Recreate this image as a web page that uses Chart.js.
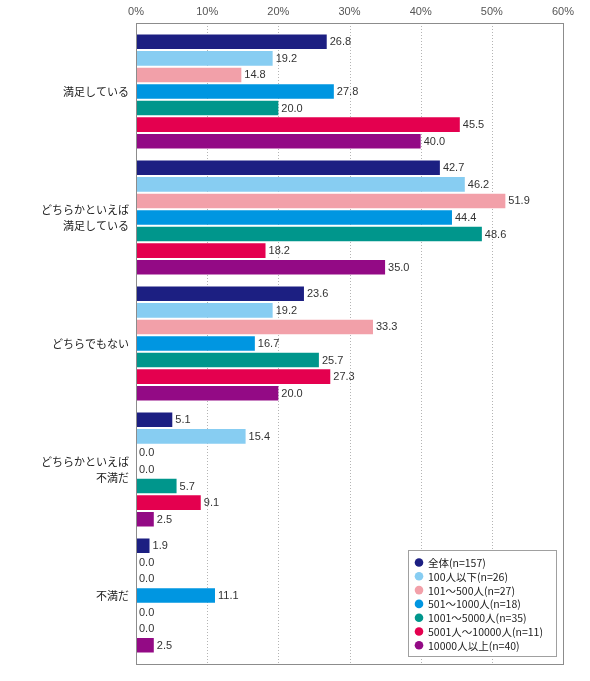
<!DOCTYPE html>
<html lang="ja">
<head>
<meta charset="utf-8">
<title>満足度</title>
<script src="https://cdn.jsdelivr.net/npm/chart.js@4.4.1/dist/chart.umd.min.js"></script>
<style>
  html, body { margin: 0; padding: 0; background: #fff; }
  #wrap { width: 590px; height: 681px; position: relative; }
</style>
</head>
<body>
<div id="wrap"><canvas id="c"></canvas></div>
<script>
// answers, top to bottom
var CATEGORIES = [
  "満足している",
  ["どちらかといえば", "満足している"],
  "どちらでもない",
  ["どちらかといえば", "不満だ"],
  "不満だ"
];

var SERIES_NAMES = [
  "全体(n=157)",
  "100人以下(n=26)",
  "101〜500人(n=27)",
  "501〜1000人(n=18)",
  "1001〜5000人(n=35)",
  "5001人〜10000人(n=11)",
  "10000人以上(n=40)"
];

var ALL      = [26.8, 42.7, 23.6, 5.1, 1.9];
var UPTO100  = [19.2, 46.2, 19.2, 15.4, 0.0];
var UPTO500  = [14.8, 51.9, 33.3, 0.0, 0.0];
var UPTO1000 = [27.8, 44.4, 16.7, 0.0, 11.1];
var UPTO5000 = [20.0, 48.6, 25.7, 5.7, 0.0];
var UPTO10K  = [45.5, 18.2, 27.3, 9.1, 0.0];
var OVER10K  = [40.0, 35.0, 20.0, 2.5, 2.5];

var X_TICKS = [0, 10, 20, 30, 40, 50, 60];

var COLORS = ["#1c1f82", "#87cdf2", "#f2a0a9", "#0096e1", "#00968c", "#e4004f", "#930a85"];

var NUM_FONT = '"Liberation Sans", Arial, sans-serif';
var JP_FONT = '"Noto Sans CJK JP", sans-serif';
var FRAME_EXT = 5.5;   // frame sticks out past the category band

var values = [ALL, UPTO100, UPTO500, UPTO1000, UPTO5000, UPTO10K, OVER10K];

// frame + dotted grid, drawn a bit taller than the chart area
var framePlugin = {
  id: "frame",
  beforeDatasetsDraw: function (chart) {
    var ctx = chart.ctx, a = chart.chartArea, x = chart.scales.x;
    var top = a.top - FRAME_EXT, bottom = a.bottom + FRAME_EXT;
    ctx.save();
    ctx.strokeStyle = "#b4b4b4";
    ctx.lineWidth = 1;
    ctx.setLineDash([1, 2]);
    X_TICKS.slice(1, -1).forEach(function (t) {
      var px = Math.round(x.getPixelForValue(t)) + 0.5;
      ctx.beginPath(); ctx.moveTo(px, top); ctx.lineTo(px, bottom); ctx.stroke();
    });
    ctx.restore();
  },
  afterDatasetsDraw: function (chart) {
    var ctx = chart.ctx, a = chart.chartArea;
    var top = Math.round(a.top - FRAME_EXT) + 0.5, bottom = Math.round(a.bottom + FRAME_EXT) + 0.5;
    var l = Math.round(a.left) + 0.5, r = Math.round(a.right) + 0.5;
    ctx.save();
    ctx.strokeStyle = "#8c8c8c";
    ctx.lineWidth = 1;
    ctx.strokeRect(l, top, r - l, bottom - top);
    ctx.restore();
  }
};

// value text at the end of each bar
var labelPlugin = {
  id: "vals",
  afterDatasetsDraw: function (chart) {
    var ctx = chart.ctx;
    ctx.save();
    ctx.font = "11px " + NUM_FONT;
    ctx.fillStyle = "#333";
    ctx.textAlign = "left";
    ctx.textBaseline = "middle";
    chart.data.datasets.forEach(function (ds, di) {
      chart.getDatasetMeta(di).data.forEach(function (bar, i) {
        ctx.fillText(ds.data[i].toFixed(1), bar.x + 3, bar.y + 0.5);
      });
    });
    ctx.restore();
  }
};

// legend box in the lower right of the plot
var legendPlugin = {
  id: "boxLegend",
  afterDraw: function (chart) {
    var ctx = chart.ctx, a = chart.chartArea;
    var w = 148, h = 106;
    var bx = a.right - 7 - w, by = a.bottom + FRAME_EXT - 8 - h;
    ctx.save();
    ctx.fillStyle = "#fff";
    ctx.fillRect(bx, by, w, h);
    ctx.strokeStyle = "#a0a0a0";
    ctx.lineWidth = 1;
    ctx.strokeRect(Math.round(bx) + 0.5, Math.round(by) + 0.5, w, h);
    ctx.font = "10.5px " + JP_FONT;
    ctx.textBaseline = "middle";
    chart.data.datasets.forEach(function (ds, i) {
      var cy = by + 12.5 + i * 13.8;
      ctx.fillStyle = ds.backgroundColor;
      ctx.beginPath(); ctx.arc(bx + 11, cy, 4.3, 0, Math.PI * 2); ctx.fill();
      ctx.fillStyle = "#222";
      ctx.fillText(ds.label, bx + 20, cy + 0.5);
    });
    ctx.restore();
  }
};

new Chart(document.getElementById("c"), {
  type: "bar",
  data: {
    labels: CATEGORIES,
    datasets: SERIES_NAMES.map(function (name, i) {
      return {
        label: name,
        data: values[i],
        backgroundColor: COLORS[i],
        borderWidth: 0,
        barPercentage: 0.88,
        categoryPercentage: 0.92
      };
    })
  },
  options: {
    indexAxis: "y",
    responsive: true,
    maintainAspectRatio: false,
    animation: false,
    layout: { padding: { left: 0, right: 27, top: 0, bottom: 22.5 } },
    plugins: { legend: { display: false }, tooltip: { enabled: false } },
    scales: {
      x: {
        position: "top",
        min: 0, max: 60,
        afterBuildTicks: function (s) { s.ticks = X_TICKS.map(function (v) { return { value: v }; }); },
        afterFit: function (s) { s.height = 28.5; },
        grid: { display: false, drawTicks: false },
        border: { display: false },
        ticks: {
          padding: 10,
          color: "#555",
          font: { family: NUM_FONT, size: 11 },
          callback: function (v) { return v + "%"; }
        }
      },
      y: {
        afterFit: function (s) { s.width = 136; },
        grid: { display: false, drawTicks: false },
        border: { display: false },
        ticks: {
          padding: 7,
          color: "#222",
          font: { family: JP_FONT, size: 11, lineHeight: 1.45 }
        }
      }
    }
  },
  plugins: [framePlugin, labelPlugin, legendPlugin]
});
</script>
</body>
</html>
